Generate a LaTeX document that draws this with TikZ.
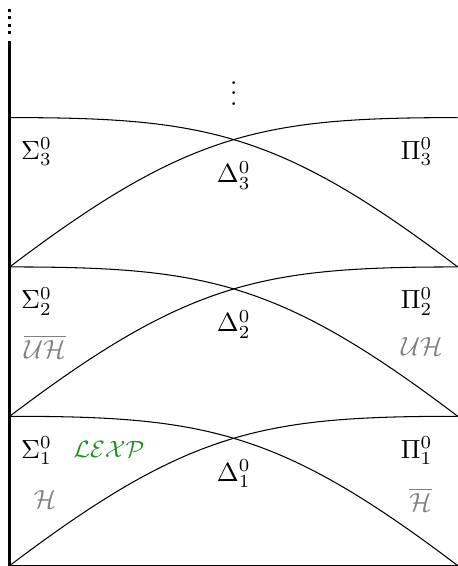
\documentclass[tikz,border=0pt]{standalone}
\usepackage{amsmath}
\usepackage{amssymb}
\usetikzlibrary{positioning}
\definecolor{hiergray}{HTML}{808080}
\definecolor{lexpgreen}{HTML}{1F8F1F}

\begin{document}
\begin{tikzpicture}[
        every node/.style={align=center, inner sep=1pt},
        % eje vertical de la jerarquía (grueso, sigue punteado hacia arriba)
        axisline/.style={line width=1.2pt},
        axisdots/.style={line width=1.2pt, dash pattern=on 1.2pt off 1.7pt},
        % curvas Sigma/Pi de cada nivel
        lvlcurve/.style={draw=black, line width=0.4pt},
        classlbl/.style={text=black},
        graylbl/.style={text=hiergray},
        lexplbl/.style={text=lexpgreen, font=\small}
    ]
        \useasboundingbox (-0.13,-0.005) rectangle (6.0,7.575);

        % extremos de cada nivel
        \coordinate (l0) at (0,0);  \coordinate (r0) at (6,0);
        \coordinate (l1) at (0,2);  \coordinate (r1) at (6,2);
        \coordinate (l2) at (0,4);  \coordinate (r2) at (6,4);
        \coordinate (l3) at (0,6);  \coordinate (r3) at (6,6);
        \coordinate (axtop) at (0,7.03);
        \coordinate (dotlo) at (0,7.115);
        \coordinate (dothi) at (0,7.46);

        \draw[axisline] (l0) -- (axtop);
        \draw[axisdots] (dotlo) -- (dothi);
        \draw[lvlcurve] (l0) -- (r0);

        % nivel 1
        \draw[lvlcurve] (l1) .. controls +(2.6,0) and +(-2.4,1.82) .. (r0);
        \draw[lvlcurve] (l0) .. controls +(2.4,1.82) and +(-2.6,0) .. (r1);
        % nivel 2
        \draw[lvlcurve] (l2) .. controls +(2.6,0) and +(-2.4,1.82) .. (r1);
        \draw[lvlcurve] (l1) .. controls +(2.4,1.82) and +(-2.6,0) .. (r2);
        % nivel 3
        \draw[lvlcurve] (l3) .. controls +(2.6,0) and +(-2.4,1.82) .. (r2);
        \draw[lvlcurve] (l2) .. controls +(2.4,1.82) and +(-2.6,0) .. (r3);

        \node (vd) at (3,6.43) {$\vdots$};

        \node[classlbl] (s3) at (0.36,5.54) {$\Sigma^0_3$};
        \node[classlbl] (p3) at (5.45,5.54) {$\Pi^0_3$};
        \node[classlbl] (d3) at (3.0,5.23)  {$\Delta^0_3$};

        \node[classlbl] (s2) at (0.36,3.54) {$\Sigma^0_2$};
        \node[classlbl] (p2) at (5.45,3.54) {$\Pi^0_2$};
        \node[classlbl] (d2) at (3.0,3.23)  {$\Delta^0_2$};
        \node[graylbl] (cuh) at (0.47,2.93) {$\overline{\mathcal{UH}}$};
        \node[graylbl] (uh) at (5.52,2.93)  {$\mathcal{UH}$};

        \node[classlbl] (s1) at (0.36,1.54) {$\Sigma^0_1$};
        \node[classlbl] (p1) at (5.45,1.54) {$\Pi^0_1$};
        \node[classlbl] (d1) at (3.0,1.23)  {$\Delta^0_1$};
        \node[lexplbl] (lexp) at (1.33,1.56) {$\mathcal{LEXP}$};
        \node[graylbl] (h) at (0.47,0.88)   {$\mathcal{H}$};
        \node[graylbl] (ch) at (5.5,0.88)   {$\overline{\mathcal{H}}$};
    \end{tikzpicture}
\end{document}
